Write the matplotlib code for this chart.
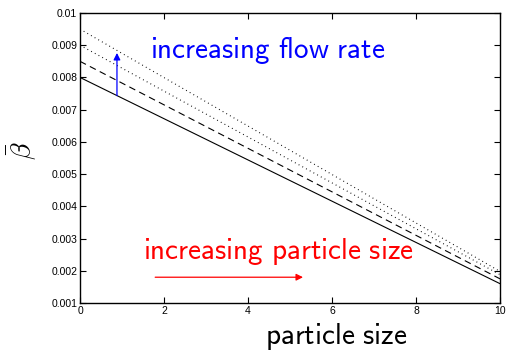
import matplotlib
matplotlib.use("Agg")
import matplotlib.pyplot as plt
import numpy as np

plt.rcParams["mathtext.fontset"] = "cm"

# end points of the straight beta-bar curves over particle size
size = [0, 10]
beta_base = [0.0080, 0.00160]
beta_q2 = [0.0085, 0.00175]
beta_q3 = [0.0090, 0.00188]
beta_q4 = [0.0095, 0.00198]

xticks = [0, 2, 4, 6, 8, 10]
yticks = [0.001, 0.002, 0.003, 0.004, 0.005, 0.006, 0.007, 0.008, 0.009, 0.01]
ytick_labels = ["0.001", "0.002", "0.003", "0.004", "0.005", "0.006", "0.007", "0.008", "0.009", "0.01"]

fig = plt.figure(figsize=(5.09, 3.51), dpi=100)
ax = fig.add_axes([80 / 509, 1 - 303 / 351, 420 / 509, 290 / 351])

ax.plot(size, beta_base, color="black", lw=0.8)
ax.plot(size, beta_q2, color="black", lw=0.8, dashes=(6, 4))
ax.plot(size, beta_q3, color="black", lw=0.8, dashes=(0.8, 3))
ax.plot(size, beta_q4, color="black", lw=0.8, dashes=(0.8, 3))

# flow-rate arrow, starting on the base curve
x0 = 0.88
y0 = np.interp(x0, size, beta_base)
ax.annotate("", xy=(x0, 0.00876), xytext=(x0, y0),
            arrowprops=dict(arrowstyle="-|>", color="blue", lw=0.9,
                            mutation_scale=10, shrinkA=0, shrinkB=0))
ax.text(1.67, 0.00885, r"$\mathsf{increasing\ flow\ rate}$", color="blue",
        fontsize=21, va="center", ha="left")

ax.annotate("", xy=(5.31, 0.0018), xytext=(1.79, 0.0018),
            arrowprops=dict(arrowstyle="-|>", color="red", lw=0.9,
                            mutation_scale=10, shrinkA=0, shrinkB=0))
ax.text(1.5, 0.0026, r"$\mathsf{increasing\ particle\ size}$", color="red",
        fontsize=21, va="center", ha="left")

ax.set_xlim(0, 10)
ax.set_ylim(0.001, 0.01)
ax.set_xticks(xticks)
ax.set_yticks(yticks)
ax.set_yticklabels(ytick_labels)
ax.tick_params(direction="in", top=True, right=True, length=4, width=0.8,
               labelsize=7.5, pad=2)
for lab in ax.get_xticklabels() + ax.get_yticklabels():
    lab.set_family("Liberation Sans")
for sp in ax.spines.values():
    sp.set_linewidth(1.0)

fig.text(336 / 509, 1 - 344 / 351, r"$\mathsf{particle\ size}$", fontsize=21,
         ha="center", va="baseline")
fig.text(22 / 509, 1 - 151 / 351, r"$\bar{\beta}$", fontsize=20,
         ha="center", va="center", rotation=90)

fig.savefig("out.png", dpi=100)
